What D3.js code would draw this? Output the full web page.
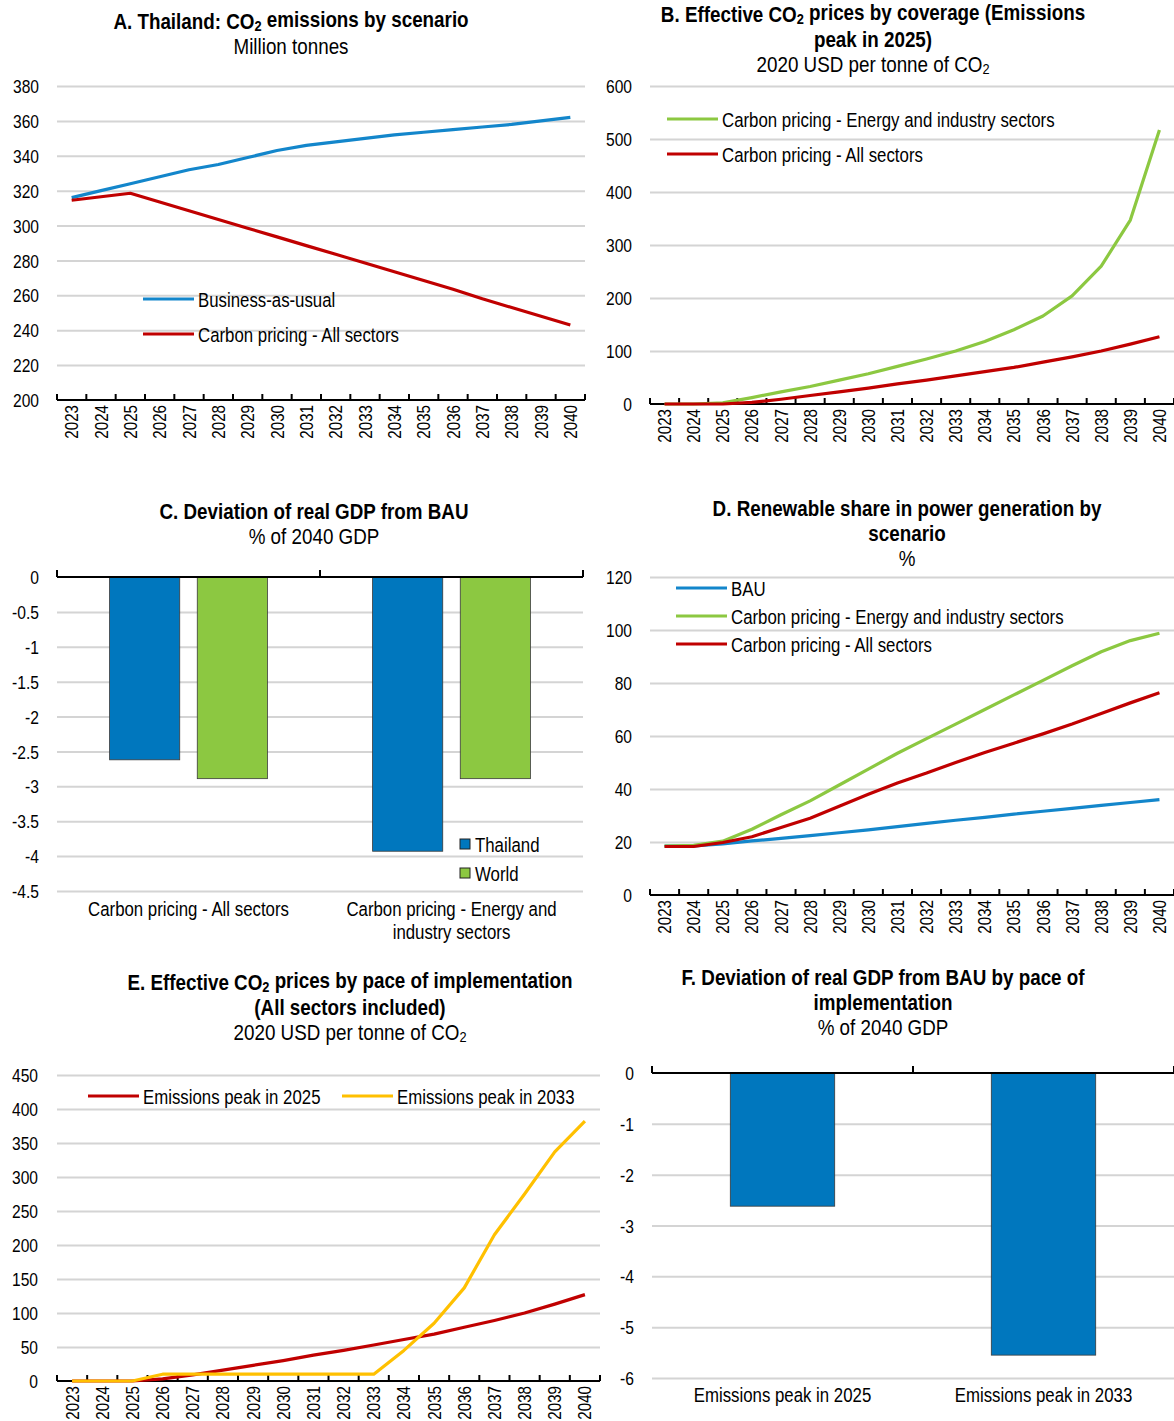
<!DOCTYPE html>
<html>
<head>
<meta charset="utf-8">
<script src="https://cdn.jsdelivr.net/npm/d3@7"></script>
<style>
  body { margin: 0; background: #fff; }
  svg { display: block; font-family: "Liberation Sans", Arial, sans-serif; }
</style>
</head>
<body>
<svg id="chart" width="1174" height="1421"></svg>
<script>
// ---------- data ----------
const years = ["2023","2024","2025","2026","2027","2028","2029","2030","2031",
               "2032","2033","2034","2035","2036","2037","2038","2039","2040"];

// A. CO2 emissions, million tonnes
const emissionsBAU       = [316, 320, 324, 328, 332, 335, 339, 343, 346, 348, 350, 352, 353.5, 355, 356.5, 358, 360, 362];
const emissionsCarbonAll = [314.5, 316.5, 318.5, 313.5, 308.5, 303.5, 298.5, 293.5, 288.5, 283.5, 278.5, 273.5, 268.5, 263.5, 258, 253, 248, 243];

// B / E. Effective CO2 prices, 2020 USD per tonne
const priceEnergyIndustry = [0, 0, 2, 12, 23, 33, 45, 57, 71, 85, 100, 118, 140, 166, 204, 260, 347, 517];
const priceAllSectors     = [0, 0, 0, 3, 9, 16, 23, 30, 38, 45, 53, 61, 69, 79, 89, 100, 113, 127];
const pricePeak2033       = [0, 0, 0, 10, 10, 10, 10, 10, 10, 10, 10, 45, 85, 137, 215, 275, 337, 382];

// C. Deviation of real GDP from BAU, % of 2040 GDP
const coverageCategories = ["Carbon pricing - All sectors", "Carbon pricing - Energy and industry sectors"];
const gdpThailand = [-2.62, -3.93];
const gdpWorld    = [-2.89, -2.89];

// D. Renewable share in power generation, %
const renewBAU          = [18.5, 18.5, 19.3, 20.4, 21.4, 22.4, 23.5, 24.6, 25.8, 27, 28.2, 29.3, 30.5, 31.6, 32.7, 33.8, 34.9, 36];
const renewEnergyInd    = [18.5, 18.7, 20.3, 24.8, 30.3, 35.5, 41.5, 47.5, 53.5, 59, 64.5, 70, 75.5, 81, 86.5, 91.8, 96, 98.8];
const renewAllSectors   = [18.3, 18.3, 19.8, 22, 25.5, 29, 33.5, 38, 42.3, 46, 50, 53.8, 57.3, 60.8, 64.5, 68.5, 72.5, 76.3];

// F. Deviation of real GDP by pace of implementation
const paceCategories = ["Emissions peak in 2025", "Emissions peak in 2033"];
const gdpPace = [-2.62, -5.55];

// tick values
const ticksA = [200, 220, 240, 260, 280, 300, 320, 340, 360, 380];
const ticksB = [0, 100, 200, 300, 400, 500, 600];
const ticksC = [0, -0.5, -1, -1.5, -2, -2.5, -3, -3.5, -4, -4.5];
const ticksD = [0, 20, 40, 60, 80, 100, 120];
const ticksE = [0, 50, 100, 150, 200, 250, 300, 350, 400, 450];
const ticksF = [0, -1, -2, -3, -4, -5, -6];

// ---------- styling ----------
const COL = {
  blueLine: "#1386CB",
  blueBar: "#0077BE",
  green: "#8CC841",
  red: "#C00000",
  yellow: "#FFC000",
  grid: "#D4D4D4"
};
const FS_TICK = 19, FS_YEAR = 18.5, FS_LEG = 20.5, FS_TITLE = 22;
const NARROW = 0.82;        // horizontal squeeze for a narrow typeface look
const NARROW_TITLE = 0.855;

const svg = d3.select("#chart");

// Draws a text line, turning "₂" into a real subscript 2
function richText(sel, str) {
  const parts = str.split("₂");
  parts.forEach((p, i) => {
    if (i > 0) {
      sel.append("tspan").attr("font-size", "0.68em").attr("dy", "0.3em").text("2");
      sel.append("tspan").attr("dy", "-0.3em").text(p);
    } else {
      sel.append("tspan").text(p);
    }
  });
}

function title(cx, lines, subtitle, y0) {
  const g = svg.append("g").attr("class", "title");
  lines.forEach((l, i) => {
    const t = g.append("text")
      .attr("x", cx).attr("y", y0 + i * 25)
      .attr("text-anchor", "middle").attr("dominant-baseline", "central")
      .attr("font-size", FS_TITLE).attr("font-weight", "bold").attr("fill", "#000");
    richText(t, l);
  });
  const t = g.append("text")
    .attr("x", cx).attr("y", y0 + lines.length * 25)
    .attr("text-anchor", "middle").attr("dominant-baseline", "central")
    .attr("font-size", FS_TITLE).attr("fill", "#000");
  richText(t, subtitle);
}

function yAxisGrid(g, y, ticks, x0, x1, labelX) {
  const ax = g.append("g")
    .attr("transform", `translate(${x0},0)`)
    .call(d3.axisLeft(y).tickValues(ticks).tickSize(-(x1 - x0)).tickPadding(x0 - labelX)
      .tickFormat(d => String(d)));
  ax.select(".domain").remove();
  ax.selectAll(".tick line").attr("stroke", COL.grid).attr("stroke-width", 2);
  ax.selectAll(".tick text").attr("font-size", FS_TICK).attr("fill", "#000")
    .attr("font-family", null).attr("dy", "0.35em");
  return ax;
}

function linePanel(o) {
  const g = svg.append("g");
  const x = d3.scaleBand().domain(years).range([o.x0, o.x1]);
  const y = d3.scaleLinear().domain(o.yDomain).range([o.yBottom, o.yTop]);

  const ax = yAxisGrid(g, y, o.ticks, o.x0, o.x1, o.labelX);
  ax.selectAll(".tick").filter(d => d === o.yDomain[0]).select("line").remove();

  // category axis along the bottom
  const axY = y(o.yDomain[0]);
  const xa = g.append("g").attr("transform", `translate(0,${axY})`)
    .call(d3.axisBottom(x).tickSize(0).tickPadding(0));
  xa.select(".domain").attr("stroke", "#000").attr("stroke-width", 2)
    .attr("d", `M${o.x0},0H${o.x1}`);
  xa.selectAll(".tick text")
    .attr("font-size", FS_YEAR).attr("fill", "#000").attr("font-family", null)
    .attr("text-anchor", "end").attr("dy", null).attr("y", 0)
    .attr("dominant-baseline", "central")
    .attr("transform", "translate(0,5) rotate(-90)");
  // tick marks between categories, pointing into the plot
  const bounds = years.map(d => x(d)).concat([o.x1]);
  g.append("g").selectAll("line").data(bounds).join("line")
    .attr("x1", d => d).attr("x2", d => d)
    .attr("y1", axY).attr("y2", axY - 6)
    .attr("stroke", "#000").attr("stroke-width", 2);

  const line = d3.line()
    .x((d, i) => x(years[i]) + x.bandwidth() / 2)
    .y(d => y(d));
  o.series.forEach(s => {
    g.append("path").datum(s.values)
      .attr("d", line).attr("fill", "none")
      .attr("stroke", s.color).attr("stroke-width", 3.2)
      .attr("stroke-linejoin", "round");
  });

  // legend
  o.legend.forEach(l => {
    g.append("line")
      .attr("x1", l.x).attr("x2", l.x + 51).attr("y1", l.y).attr("y2", l.y)
      .attr("stroke", l.color).attr("stroke-width", 3.2);
    g.append("text").attr("x", l.x + 55).attr("y", l.y)
      .attr("dominant-baseline", "central").attr("font-size", FS_LEG).attr("fill", "#000")
      .text(l.name);
  });
}

function wrapLabels(textSel, width) {
  textSel.each(function () {
    const t = d3.select(this);
    const words = t.text().split(/\s+/);
    t.text(null);
    let lineWords = [];
    let tspan = t.append("tspan").attr("x", 0).attr("dy", 0);
    words.forEach(w => {
      lineWords.push(w);
      tspan.text(lineWords.join(" "));
      if (tspan.node().getComputedTextLength() > width && lineWords.length > 1) {
        lineWords.pop();
        tspan.text(lineWords.join(" "));
        lineWords = [w];
        tspan = t.append("tspan").attr("x", 0).attr("dy", "1.1em").text(w);
      }
    });
  });
}

function barAxisTop(g, x, y, x0, x1, cats) {
  const axY = y(0);
  const xa = g.append("g").attr("transform", `translate(0,${axY})`)
    .call(d3.axisBottom(x).tickSize(0).tickPadding(0));
  xa.select(".domain").remove();
  xa.selectAll(".tick text").remove();
  g.append("line").attr("x1", x0).attr("x2", x1).attr("y1", axY).attr("y2", axY)
    .attr("stroke", "#000").attr("stroke-width", 2);
  const bounds = cats.map(d => x(d) - x.step() * x.paddingOuter()).concat([x1]);
  g.append("g").selectAll("line").data(bounds).join("line")
    .attr("x1", d => d).attr("x2", d => d)
    .attr("y1", axY).attr("y2", axY - 7)
    .attr("stroke", "#000").attr("stroke-width", 2);
}

// ---------- Panel A ----------
title(291, ["A. Thailand: CO₂ emissions by scenario"], "Million tonnes", 21);
linePanel({
  x0: 57, x1: 585, yTop: 86, yBottom: 400, labelX: 39,
  yDomain: [200, 380], ticks: ticksA,
  series: [
    { values: emissionsBAU, color: COL.blueLine },
    { values: emissionsCarbonAll, color: COL.red }
  ],
  legend: [
    { name: "Business-as-usual", color: COL.blueLine, x: 143, y: 299 },
    { name: "Carbon pricing - All sectors", color: COL.red, x: 143, y: 334 }
  ]
});

// ---------- Panel B ----------
title(873, ["B. Effective CO₂ prices by coverage (Emissions", "peak in 2025)"], "2020 USD per tonne of CO₂", 14);
linePanel({
  x0: 650, x1: 1174, yTop: 86, yBottom: 404, labelX: 632,
  yDomain: [0, 600], ticks: ticksB,
  series: [
    { values: priceEnergyIndustry, color: COL.green },
    { values: priceAllSectors, color: COL.red }
  ],
  legend: [
    { name: "Carbon pricing - Energy and industry sectors", color: COL.green, x: 667, y: 119 },
    { name: "Carbon pricing - All sectors", color: COL.red, x: 667, y: 154 }
  ]
});

// ---------- Panel C ----------
title(314, ["C. Deviation of real GDP from BAU"], "% of 2040 GDP", 511);
(function () {
  const g = svg.append("g");
  const x0 = 57, x1 = 583;
  const x = d3.scaleBand().domain(coverageCategories).range([x0, x1]).padding(0);
  const xs = d3.scaleBand().domain(["Thailand", "World"]).range([0, x.bandwidth()])
    .paddingInner(0.2).paddingOuter(0.6);
  const y = d3.scaleLinear().domain([-4.5, 0]).range([891, 577]);
  const ax = yAxisGrid(g, y, ticksC, x0, x1, 39);
  ax.selectAll(".tick").filter(d => d === 0).select("line").remove();

  const rows = coverageCategories.map((c, i) => ({ cat: c, Thailand: gdpThailand[i], World: gdpWorld[i] }));
  const colors = { Thailand: COL.blueBar, World: COL.green };
  rows.forEach(r => {
    ["Thailand", "World"].forEach(k => {
      g.append("rect")
        .attr("x", x(r.cat) + xs(k)).attr("width", xs.bandwidth())
        .attr("y", y(0)).attr("height", y(r[k]) - y(0))
        .attr("fill", colors[k]).attr("stroke", "#3a3a3a").attr("stroke-width", 0.8);
    });
  });
  barAxisTop(g, x, y, x0, x1, coverageCategories);

  // category labels
  const lab = g.append("g").selectAll("g").data(coverageCategories).join("g")
    .attr("transform", d => `translate(${x(d) + x.bandwidth() / 2},908)`);
  lab.append("text").attr("text-anchor", "middle").attr("dominant-baseline", "central")
    .attr("font-size", FS_LEG).attr("fill", "#000").text(d => d)
    .call(wrapLabels, 285);

  // legend
  const leg = [["Thailand", COL.blueBar, 844], ["World", COL.green, 873]];
  leg.forEach(([n, c, yy]) => {
    g.append("rect").attr("x", 460).attr("y", yy - 5).attr("width", 10).attr("height", 10)
      .attr("fill", c).attr("stroke", "#222").attr("stroke-width", 1);
    g.append("text").attr("x", 475).attr("y", yy).attr("dominant-baseline", "central")
      .attr("font-size", FS_LEG).attr("fill", "#000").text(n);
  });
})();

// ---------- Panel D ----------
title(907, ["D. Renewable share in power generation by", "scenario"], "%", 508);
linePanel({
  x0: 650, x1: 1174, yTop: 577, yBottom: 895, labelX: 632,
  yDomain: [0, 120], ticks: ticksD,
  series: [
    { values: renewBAU, color: COL.blueLine },
    { values: renewEnergyInd, color: COL.green },
    { values: renewAllSectors, color: COL.red }
  ],
  legend: [
    { name: "BAU", color: COL.blueLine, x: 676, y: 588 },
    { name: "Carbon pricing - Energy and industry sectors", color: COL.green, x: 676, y: 616 },
    { name: "Carbon pricing - All sectors", color: COL.red, x: 676, y: 644 }
  ]
});

// ---------- Panel E ----------
title(350, ["E. Effective CO₂ prices by pace of implementation", "(All sectors included)"], "2020 USD per tonne of CO₂", 982);
linePanel({
  x0: 57, x1: 600, yTop: 1075, yBottom: 1381, labelX: 38,
  yDomain: [0, 450], ticks: ticksE,
  series: [
    { values: priceAllSectors, color: COL.red },
    { values: pricePeak2033, color: COL.yellow }
  ],
  legend: [
    { name: "Emissions peak in 2025", color: COL.red, x: 88, y: 1096 },
    { name: "Emissions peak in 2033", color: COL.yellow, x: 342, y: 1096 }
  ]
});

// ---------- Panel F ----------
title(883, ["F. Deviation of real GDP from BAU by pace of", "implementation"], "% of 2040 GDP", 977);
(function () {
  const g = svg.append("g");
  const x0 = 652, x1 = 1174;
  const x = d3.scaleBand().domain(paceCategories).range([x0, x1])
    .paddingInner(0.6).paddingOuter(0.3);
  const y = d3.scaleLinear().domain([-6, 0]).range([1378, 1073]);
  const ax = yAxisGrid(g, y, ticksF, x0, x1, 634);
  ax.selectAll(".tick").filter(d => d === 0).select("line").remove();

  g.append("g").selectAll("rect").data(paceCategories).join("rect")
    .attr("x", d => x(d)).attr("width", x.bandwidth())
    .attr("y", y(0)).attr("height", (d, i) => y(gdpPace[i]) - y(0))
    .attr("fill", COL.blueBar).attr("stroke", "#3a3a3a").attr("stroke-width", 0.8);
  barAxisTop(g, x, y, x0, x1, paceCategories);

  g.append("g").selectAll("text").data(paceCategories).join("text")
    .attr("x", d => x(d) + x.bandwidth() / 2).attr("y", 1394)
    .attr("text-anchor", "middle").attr("dominant-baseline", "central")
    .attr("font-size", FS_LEG).attr("fill", "#000").text(d => d);
})();

// squeeze every label horizontally so it reads like a narrow face
function condense(node, k) {
  const L = node.getComputedTextLength();
  if (L > 0) {
    node.setAttribute("textLength", (L * k).toFixed(1));
    node.setAttribute("lengthAdjust", "spacingAndGlyphs");
  }
}
svg.selectAll("text").each(function () {
  const k = this.closest(".title") ? NARROW_TITLE : NARROW;
  const lines = this.querySelectorAll("tspan[x]");
  if (lines.length) lines.forEach(s => condense(s, k));
  else condense(this, k);
});
</script>
</body>
</html>
